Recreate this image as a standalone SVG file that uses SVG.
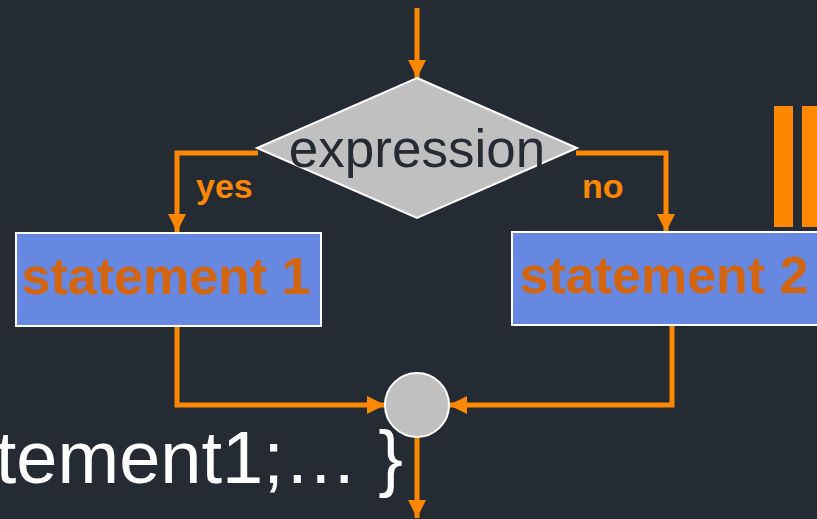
<svg xmlns="http://www.w3.org/2000/svg" width="817" height="519" viewBox="0 0 817 519">
<style>
.bg{fill:#252b33}
.conn{fill:none;stroke:#ff8800;stroke-width:5}
.shape{fill:#c0c0c0;stroke:#ffffff;stroke-width:2}
.box{fill:#6688e0;stroke:#ffffff;stroke-width:2}
.lbl{font-family:"Liberation Sans",Arial,sans-serif;font-weight:bold;fill:#ff8800;font-size:34px}
.stmt{font-family:"Liberation Sans",Arial,sans-serif;font-weight:bold;fill:#d4650f;font-size:52px;text-anchor:middle}
</style>
<defs>
<marker id="ah" markerUnits="userSpaceOnUse" markerWidth="20" markerHeight="20" viewBox="0 0 20 20" refX="18" refY="10" orient="auto">
<path d="M0,1 L18,10 L0,19 Z" fill="#ff8800"/>
</marker>
</defs>
<rect class="bg" x="0" y="0" width="817" height="519"/>
<g id="bars">
<rect x="774" y="106" width="19" height="121" fill="#ff8800"/>
<rect x="802" y="106" width="20" height="121" fill="#ff8800"/>
</g>
<g id="connectors">
<path class="conn" d="M417,8 V78" marker-end="url(#ah)"/>
<path class="conn" d="M258,153 H177 V232" marker-end="url(#ah)"/>
<path class="conn" d="M576,153 H666 V232" marker-end="url(#ah)"/>
<path class="conn" d="M177,327 V405 H385" marker-end="url(#ah)"/>
<path class="conn" d="M672,326 V405 H449" marker-end="url(#ah)"/>
<path class="conn" d="M417,437 V518" marker-end="url(#ah)"/>
</g>
<g id="decision">
<polygon class="shape" points="417,78 577,148 417,218 257,148"/>
<text x="417" y="167" font-family="'Liberation Sans',Arial,sans-serif" font-size="53" fill="#252b33" text-anchor="middle">expression</text>
</g>
<g id="yes-label"><text class="lbl" x="196" y="198">yes</text></g>
<g id="no-label"><text class="lbl" x="582" y="198">no</text></g>
<g id="statement1">
<rect class="box" x="16" y="233" width="305" height="93"/>
<text class="stmt" x="166" y="294">statement 1</text>
</g>
<g id="statement2">
<rect class="box" x="512" y="232" width="310" height="93"/>
<text class="stmt" x="664" y="293">statement 2</text>
</g>
<g id="join">
<circle class="shape" cx="417" cy="405" r="32"/>
</g>
<text x="403" y="483" font-family="'Liberation Sans',Arial,sans-serif" font-size="74" fill="#ffffff" text-anchor="end">tement1;… }</text>
</svg>
